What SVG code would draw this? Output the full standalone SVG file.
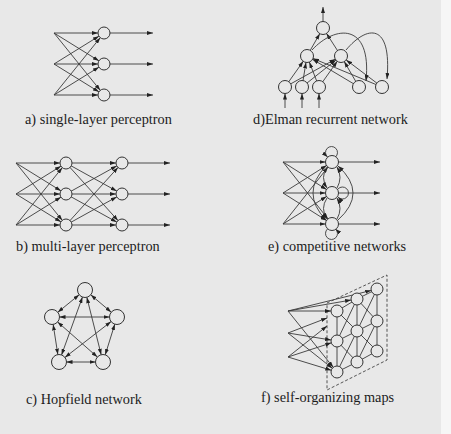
<svg xmlns="http://www.w3.org/2000/svg" width="451" height="434" viewBox="0 0 451 434">
<defs>
<style>
.ln{fill:none;stroke:#3a3a3a;stroke-width:0.9}
.dash{fill:none;stroke:#444;stroke-width:0.9;stroke-dasharray:3,2}
.nd{fill:#e8e8e8;stroke:#333;stroke-width:1}
.lbl{font-family:"Liberation Serif","Times New Roman",serif;font-size:14.3px;fill:#1c1c1c}
.e0{marker-end:url(#a0)}
.e6{marker-end:url(#a6)}
.e65{marker-end:url(#a65)}
.b75{marker-start:url(#a75);marker-end:url(#a75)}
</style>
<marker id="a0" viewBox="0 0 6 4" refX="6" refY="2" markerWidth="6" markerHeight="4" markerUnits="userSpaceOnUse" orient="auto-start-reverse"><path d="M0,0 L6,2 L0,4 z" fill="#222"/></marker>
<marker id="a6" viewBox="0 0 6 4" refX="12" refY="2" markerWidth="6" markerHeight="4" markerUnits="userSpaceOnUse" orient="auto-start-reverse"><path d="M0,0 L6,2 L0,4 z" fill="#222"/></marker>
<marker id="a65" viewBox="0 0 6 4" refX="12.5" refY="2" markerWidth="6" markerHeight="4" markerUnits="userSpaceOnUse" orient="auto-start-reverse"><path d="M0,0 L6,2 L0,4 z" fill="#222"/></marker>
<marker id="a75" viewBox="0 0 6 4" refX="13.5" refY="2" markerWidth="6" markerHeight="4" markerUnits="userSpaceOnUse" orient="auto-start-reverse"><path d="M0,0 L6,2 L0,4 z" fill="#222"/></marker>
</defs>
<rect x="0" y="0" width="451" height="434" fill="#e8e8e8"/>
<rect x="441" y="0" width="10" height="434" fill="#f6f6f6"/>

<g id="connectors">
<g id="conn-a">
<path class="ln e6" d="M54,33 L104,33"/><path class="ln e6" d="M54,33 L104,64"/><path class="ln e6" d="M54,33 L104,95"/>
<path class="ln e6" d="M54,64 L104,33"/><path class="ln e6" d="M54,64 L104,64"/><path class="ln e6" d="M54,64 L104,95"/>
<path class="ln e6" d="M54,95 L104,33"/><path class="ln e6" d="M54,95 L104,64"/><path class="ln e6" d="M54,95 L104,95"/>
<path class="ln e0" d="M104,33 L153,33"/><path class="ln e0" d="M104,64 L153,64"/><path class="ln e0" d="M104,95 L153,95"/>
</g>
<g id="conn-b">
<path class="ln e6" d="M16,163 L66,163"/><path class="ln e6" d="M16,163 L66,194"/><path class="ln e6" d="M16,163 L66,225"/>
<path class="ln e6" d="M16,194 L66,163"/><path class="ln e6" d="M16,194 L66,194"/><path class="ln e6" d="M16,194 L66,225"/>
<path class="ln e6" d="M16,225 L66,163"/><path class="ln e6" d="M16,225 L66,194"/><path class="ln e6" d="M16,225 L66,225"/>
<path class="ln e6" d="M66,163 L122,163"/><path class="ln e6" d="M66,163 L122,194"/><path class="ln e6" d="M66,163 L122,225"/>
<path class="ln e6" d="M66,194 L122,163"/><path class="ln e6" d="M66,194 L122,194"/><path class="ln e6" d="M66,194 L122,225"/>
<path class="ln e6" d="M66,225 L122,163"/><path class="ln e6" d="M66,225 L122,194"/><path class="ln e6" d="M66,225 L122,225"/>
<path class="ln e0" d="M122,163 L170,163"/><path class="ln e0" d="M122,194 L170,194"/><path class="ln e0" d="M122,225 L170,225"/>
</g>
<g id="conn-c">
<path class="ln b75" d="M85,290 L52,317"/><path class="ln b75" d="M85,290 L117,317"/>
<path class="ln b75" d="M52,317 L59,362"/><path class="ln b75" d="M117,317 L103,362"/>
<path class="ln b75" d="M59,362 L103,362"/><path class="ln b75" d="M85,290 L59,362"/>
<path class="ln b75" d="M85,290 L103,362"/><path class="ln b75" d="M52,317 L117,317"/>
<path class="ln b75" d="M52,317 L103,362"/><path class="ln b75" d="M117,317 L59,362"/>
</g>
<g id="conn-d">
<path class="ln e0" d="M323,28 L323,7"/>
<path class="ln e65" d="M307,56 L323,28"/><path class="ln e65" d="M341,56 L323,28"/>
<path class="ln e65" d="M285,87 L307,56"/><path class="ln e65" d="M285,87 L341,56"/>
<path class="ln e65" d="M302,87 L307,56"/><path class="ln e65" d="M302,87 L341,56"/>
<path class="ln e65" d="M319,87 L307,56"/><path class="ln e65" d="M319,87 L341,56"/>
<path class="ln e65" d="M359,87 L307,56"/><path class="ln e65" d="M359,87 L341,56"/>
<path class="ln e65" d="M382,87 L307,56"/><path class="ln e65" d="M382,87 L341,56"/>
<path class="ln e65" d="M285,108 L285,87"/><path class="ln e65" d="M302,108 L302,87"/><path class="ln e65" d="M319,108 L319,87"/>
<path class="ln e0" d="M312,50 C335,25 372,22 366,81"/>
<path class="ln e0" d="M346,50 C367,25 392,22 387,79"/>
</g>
<g id="conn-e">
<path class="ln e65" d="M283,162 L332,162"/><path class="ln e65" d="M283,162 L332,193"/><path class="ln e65" d="M283,162 L332,224"/>
<path class="ln e65" d="M283,193 L332,162"/><path class="ln e65" d="M283,193 L332,193"/><path class="ln e65" d="M283,193 L332,224"/>
<path class="ln e65" d="M283,224 L332,162"/><path class="ln e65" d="M283,224 L332,193"/><path class="ln e65" d="M283,224 L332,224"/>
<path class="ln e0" d="M332,162 L380,162"/><path class="ln e0" d="M332,193 L380,193"/><path class="ln e0" d="M332,224 L380,224"/>
<path class="ln e0" d="M335.5,157 A6,6 0 1,0 327.5,157"/>
<path class="ln e0" d="M327.5,229 A6,6 0 1,0 335.5,229"/>
<path class="ln e0" d="M338,189 A6,6 0 1,1 338,197"/>
<path class="ln e0" d="M327,167 Q320,177.5 327,188"/>
<path class="ln e0" d="M327,198 Q320,208.5 327,219"/>
<path class="ln e0" d="M337,188 Q343,177.5 337,167"/>
<path class="ln e0" d="M337,219 Q343,208.5 337,198"/>
<path class="ln e0" d="M326,166 Q300,193 326,220"/>
<path class="ln e0" d="M338,220 Q368,193 338,166"/>
</g>
<g id="conn-f">
<path class="dash" d="M327,303 L387,275 L387,360 L327,390 Z"/>
<path class="ln" d="M337,311 L337,372 M357,299 L357,362 M377,289 L377,351"/>
<path class="ln" d="M337,311 L357,299 L377,289 M337,341 L357,331 L377,321 M337,372 L357,362 L377,351"/>
<path class="ln" d="M337,311 L357,331 L377,351 M337,341 L357,299 M337,341 L357,362 M337,372 L357,331 L377,289 M357,299 L377,321 M357,362 L377,321"/>
<path class="ln e6" d="M288,311 L337,311"/><path class="ln e6" d="M288,311 L357,299"/><path class="ln e6" d="M288,311 L377,289"/>
<path class="ln e6" d="M288,311 L337,372"/>
<path class="ln e0" d="M288,333 L327,318"/><path class="ln e6" d="M288,333 L337,341"/><path class="ln e6" d="M288,333 L337,372"/>
<path class="ln e0" d="M288,357 L327,326"/><path class="ln e6" d="M288,357 L337,341"/><path class="ln e6" d="M288,357 L337,372"/>
</g>
</g>

<g id="node-a1"><circle class="nd" cx="104" cy="33" r="6"/></g>
<g id="node-a2"><circle class="nd" cx="104" cy="64" r="6"/></g>
<g id="node-a3"><circle class="nd" cx="104" cy="95" r="6"/></g>
<g id="node-b1"><circle class="nd" cx="66" cy="163" r="6"/></g>
<g id="node-b2"><circle class="nd" cx="66" cy="194" r="6"/></g>
<g id="node-b3"><circle class="nd" cx="66" cy="225" r="6"/></g>
<g id="node-b4"><circle class="nd" cx="122" cy="163" r="6"/></g>
<g id="node-b5"><circle class="nd" cx="122" cy="194" r="6"/></g>
<g id="node-b6"><circle class="nd" cx="122" cy="225" r="6"/></g>
<g id="node-c1"><circle class="nd" cx="85" cy="290" r="7.5"/></g>
<g id="node-c2"><circle class="nd" cx="52" cy="317" r="7.5"/></g>
<g id="node-c3"><circle class="nd" cx="117" cy="317" r="7.5"/></g>
<g id="node-c4"><circle class="nd" cx="59" cy="362" r="7.5"/></g>
<g id="node-c5"><circle class="nd" cx="103" cy="362" r="7.5"/></g>
<g id="node-d-out"><circle class="nd" cx="323" cy="28" r="6.5"/></g>
<g id="node-d-h1"><circle class="nd" cx="307" cy="56" r="6.5"/></g>
<g id="node-d-h2"><circle class="nd" cx="341" cy="56" r="6.5"/></g>
<g id="node-d-i1"><circle class="nd" cx="285" cy="87" r="6.5"/></g>
<g id="node-d-i2"><circle class="nd" cx="302" cy="87" r="6.5"/></g>
<g id="node-d-i3"><circle class="nd" cx="319" cy="87" r="6.5"/></g>
<g id="node-d-c1"><circle class="nd" cx="359" cy="87" r="6.5"/></g>
<g id="node-d-c2"><circle class="nd" cx="382" cy="87" r="6.5"/></g>
<g id="node-e1"><circle class="nd" cx="332" cy="162" r="6.5"/></g>
<g id="node-e2"><circle class="nd" cx="332" cy="193" r="6.5"/></g>
<g id="node-e3"><circle class="nd" cx="332" cy="224" r="6.5"/></g>
<g id="node-f1"><circle class="nd" cx="337" cy="311" r="6"/></g>
<g id="node-f2"><circle class="nd" cx="337" cy="341" r="6"/></g>
<g id="node-f3"><circle class="nd" cx="337" cy="372" r="6"/></g>
<g id="node-f4"><circle class="nd" cx="357" cy="299" r="6"/></g>
<g id="node-f5"><circle class="nd" cx="357" cy="331" r="6"/></g>
<g id="node-f6"><circle class="nd" cx="357" cy="362" r="6"/></g>
<g id="node-f7"><circle class="nd" cx="377" cy="289" r="6"/></g>
<g id="node-f8"><circle class="nd" cx="377" cy="321" r="6"/></g>
<g id="node-f9"><circle class="nd" cx="377" cy="351" r="6"/></g>

<g id="labels">
<text class="lbl" x="25" y="124">a) single-layer perceptron</text>
<text class="lbl" x="253" y="124">d)Elman recurrent network</text>
<text class="lbl" x="16" y="251">b) multi-layer perceptron</text>
<text class="lbl" x="268" y="251">e) competitive networks</text>
<text class="lbl" x="26" y="404">c) Hopfield network</text>
<text class="lbl" x="261" y="402">f) self-organizing maps</text>
</g>
</svg>
